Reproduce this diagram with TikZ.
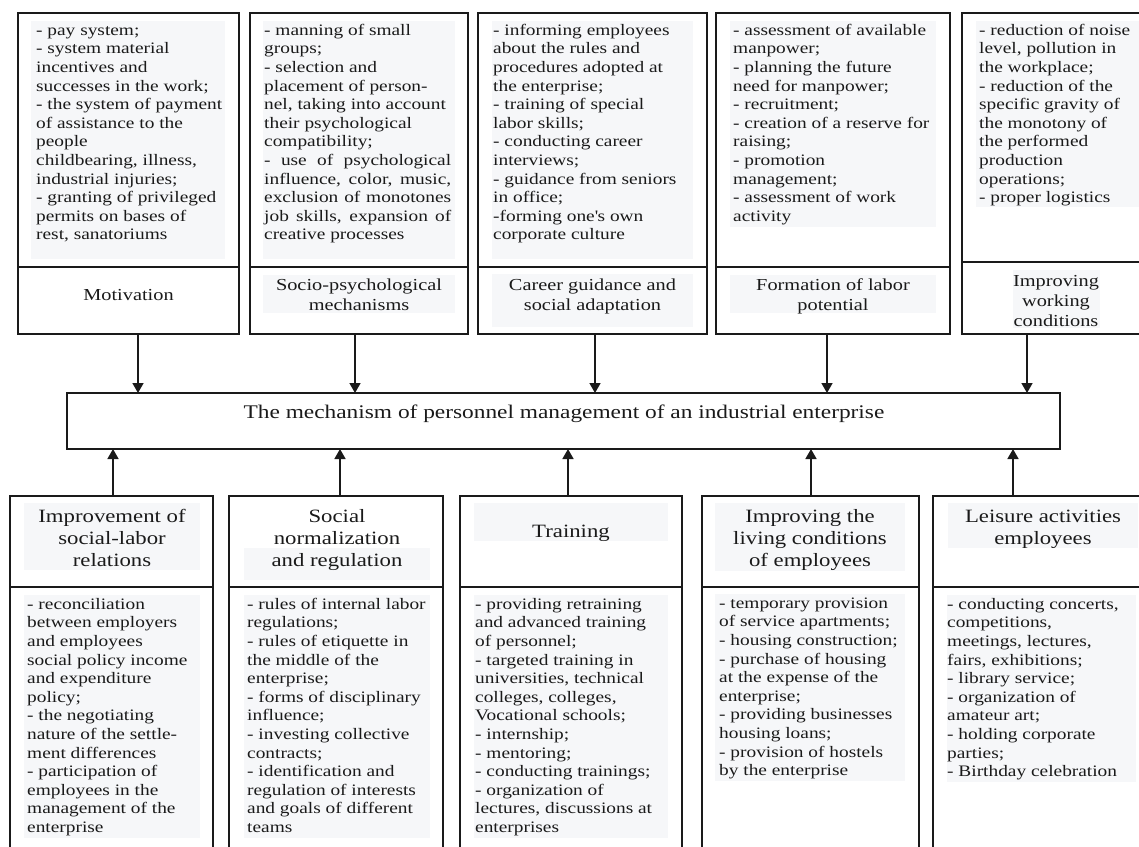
\documentclass[tikz,border=0pt]{standalone}
\usepackage{fontspec}
\setmainfont{Liberation Serif}[FakeStretch=1.21]
\usetikzlibrary{arrows.meta,calc}
\definecolor{hl}{HTML}{F6F7F9}
\definecolor{ink}{HTML}{1A1A1A}
\tikzset{
  box/.style={draw=ink, line width=1.6pt, rectangle, inner sep=0pt, outer sep=0pt, anchor=north west},
  bodytxt/.style={anchor=north west, inner sep=0pt, align=left, text=ink, font=\fontsize{16}{18.6}\selectfont},
  ttl/.style={anchor=north, inner sep=0pt, align=center, text=ink, font=\fontsize{16.8}{20}\selectfont},
  bttl/.style={anchor=north, inner sep=0pt, align=center, text=ink, font=\fontsize{18.8}{22}\selectfont},
  midtxt/.style={anchor=base, inner sep=0pt, text=ink, font=\fontsize{19.3}{22}\selectfont},
  arr/.style={draw=ink, line width=1.6pt, -{Triangle[length=10pt,width=11pt]}},
  shade/.style={fill=hl},
}
\newcommand{\jl}[1]{\makebox[187pt][s]{#1}}
\begin{document}
\begin{tikzpicture}[x=1pt,y=-1pt]
\clip (0,0) rectangle (1139,846);
\fill[white] (0,0) rectangle (1139,846);

% ---------- top boxes ----------
\node[box, minimum width=221pt, minimum height=254pt] (t1a) at (18,13) {};
\node[box, minimum width=221pt, minimum height=67pt] (t1b) at (18,267) {};
\node[box, minimum width=218pt, minimum height=254pt] (t2a) at (250,13) {};
\node[box, minimum width=218pt, minimum height=67pt] (t2b) at (250,267) {};
\node[box, minimum width=229pt, minimum height=254pt] (t3a) at (478,13) {};
\node[box, minimum width=229pt, minimum height=67pt] (t3b) at (478,267) {};
\node[box, minimum width=234pt, minimum height=254pt] (t4a) at (716,13) {};
\node[box, minimum width=234pt, minimum height=67pt] (t4b) at (716,267) {};
\node[box, minimum width=240pt, minimum height=249pt] (t5a) at (962,13) {};
\node[box, minimum width=240pt, minimum height=72pt] (t5b) at (962,262) {};

% shading
\fill[shade] (31,21) rectangle (225,259);
\fill[shade] (263,21) rectangle (455,259);
\fill[shade] (492,21) rectangle (693,259);
\fill[shade] (730,21) rectangle (936,227);
\fill[shade] (976,21) rectangle (1139,207);
\fill[shade] (263,275) rectangle (455,313);
\fill[shade] (492,274) rectangle (693,327);
\fill[shade] (730,275) rectangle (936,313);
\fill[shade] (1013,270) rectangle (1100,328);

\node[bodytxt] (t1txt) at (36,22) {\strut- pay system;\\- system material\\incentives and\\successes in the work;\\- the system of payment\\of assistance to the\\people\\childbearing, illness,\\industrial injuries;\\- granting of privileged\\permits on bases of\\rest, sanatoriums};
\node[bodytxt] (t2txt) at (264,22) {\strut- manning of small\\groups;\\- selection and\\placement of person-\\nel, taking into account\\their psychological\\compatibility;\\\jl{- use of psychological}\\\jl{influence, color, music,}\\\jl{exclusion of monotones}\\\jl{job skills, expansion of}\\creative processes};
\node[bodytxt] (t3txt) at (493,22) {\strut- informing employees\\about the rules and\\procedures adopted at\\the enterprise;\\- training of special\\labor skills;\\- conducting career\\interviews;\\- guidance from seniors\\in office;\\-forming one\textquotesingle s own\\corporate culture};
\node[bodytxt] (t4txt) at (733,22) {\strut- assessment of available\\manpower;\\- planning the future\\need for manpower;\\- recruitment;\\- creation of a reserve for\\raising;\\- promotion\\management;\\- assessment of work\\activity};
\node[bodytxt] (t5txt) at (979,22) {\strut- reduction of noise\\level, pollution in\\the workplace;\\- reduction of the\\specific gravity of\\the monotony of\\the performed\\production\\operations;\\- proper logistics};

\node[ttl] (t1ttl) at (128.5,286) {\strut Motivation};
\node[ttl] (t2ttl) at (359,276) {\strut Socio-psychological\\mechanisms};
\node[ttl] (t3ttl) at (592.5,276) {\strut Career guidance and\\social adaptation};
\node[ttl] (t4ttl) at (833,276) {\strut Formation of labor\\potential};
\node[ttl] (t5ttl) at (1056,272) {\strut Improving\\working\\conditions};

% ---------- middle ----------
\node[box, minimum width=993pt, minimum height=56pt] (m) at (67,393) {};
\node[midtxt] (mtxt) at (564,418) {The mechanism of personnel management of an industrial enterprise};

% ---------- bottom boxes ----------
\node[box, minimum width=203pt, minimum height=91pt] (b1a) at (10,496) {};
\node[box, minimum width=203pt, minimum height=280pt] (b1b) at (10,587) {};
\node[box, minimum width=214pt, minimum height=91pt] (b2a) at (229,496) {};
\node[box, minimum width=214pt, minimum height=280pt] (b2b) at (229,587) {};
\node[box, minimum width=222pt, minimum height=91pt] (b3a) at (460,496) {};
\node[box, minimum width=222pt, minimum height=280pt] (b3b) at (460,587) {};
\node[box, minimum width=217pt, minimum height=91pt] (b4a) at (702,496) {};
\node[box, minimum width=217pt, minimum height=280pt] (b4b) at (702,587) {};
\node[box, minimum width=240pt, minimum height=91pt] (b5a) at (933,496) {};
\node[box, minimum width=240pt, minimum height=280pt] (b5b) at (933,587) {};

\fill[shade] (24,503) rectangle (200,570);
\fill[shade] (244,548) rectangle (430,580);
\fill[shade] (474,503) rectangle (668,541);
\fill[shade] (715,503) rectangle (905,571);
\fill[shade] (948,503) rectangle (1138,548);
\fill[shade] (24,595) rectangle (200,838);
\fill[shade] (244,595) rectangle (430,838);
\fill[shade] (474,595) rectangle (668,838);
\fill[shade] (715,594) rectangle (905,781);
\fill[shade] (947,595) rectangle (1136,782);

\node[bttl] (b1ttl) at (112,506.6) {\strut Improvement of\\social-labor\\relations};
\node[bttl] (b2ttl) at (337,506.6) {\strut Social\\normalization\\and regulation};
\node[bttl] (b3ttl) at (571,521.6) {\strut Training};
\node[bttl] (b4ttl) at (810,507) {\strut Improving the\\living conditions\\of employees};
\node[bttl] (b5ttl) at (1043,506.6) {\strut Leisure activities\\employees};

\node[bodytxt] (b1txt) at (27,596) {\strut- reconciliation\\between employers\\and employees\\social policy income\\and expenditure\\policy;\\- the negotiating\\nature of the settle-\\ment differences\\- participation of\\employees in the\\management of the\\enterprise};
\node[bodytxt] (b2txt) at (247,596) {\strut- rules of internal labor\\regulations;\\- rules of etiquette in\\the middle of the\\enterprise;\\- forms of disciplinary\\influence;\\- investing collective\\contracts;\\- identification and\\regulation of interests\\and goals of different\\teams};
\node[bodytxt] (b3txt) at (475,596) {\strut- providing retraining\\and advanced training\\of personnel;\\- targeted training in\\universities, technical\\colleges, colleges,\\Vocational schools;\\- internship;\\- mentoring;\\- conducting trainings;\\- organization of\\lectures, discussions at\\enterprises};
\node[bodytxt] (b4txt) at (719,595) {\strut- temporary provision\\of service apartments;\\- housing construction;\\- purchase of housing\\at the expense of the\\enterprise;\\- providing businesses\\housing loans;\\- provision of hostels\\by the enterprise};
\node[bodytxt] (b5txt) at (947,596) {\strut- conducting concerts,\\competitions,\\meetings, lectures,\\fairs, exhibitions;\\- library service;\\- organization of\\amateur art;\\- holding corporate\\parties;\\- Birthday celebration};

% ---------- connectors ----------
\coordinate (a1) at ([xshift=9.5pt]t1b.south);
\coordinate (a2) at ([xshift=-4pt]t2b.south);
\coordinate (a3) at ([xshift=2.5pt]t3b.south);
\coordinate (a4) at ([xshift=-6pt]t4b.south);
\coordinate (a5) at ([xshift=65pt]t5b.south west);
\foreach \i in {1,...,5} {\draw[arr] (a\i) -- (a\i |- m.north);}

\coordinate (c1) at ([xshift=1.5pt]b1a.north);
\coordinate (c2) at ([xshift=4pt]b2a.north);
\coordinate (c3) at ([xshift=-3pt]b3a.north);
\coordinate (c4) at ([xshift=0.5pt]b4a.north);
\coordinate (c5) at ([xshift=80pt]b5a.north west);
\foreach \i in {1,...,5} {\draw[arr] (c\i) -- (c\i |- m.south);}
\end{tikzpicture}
\end{document}
